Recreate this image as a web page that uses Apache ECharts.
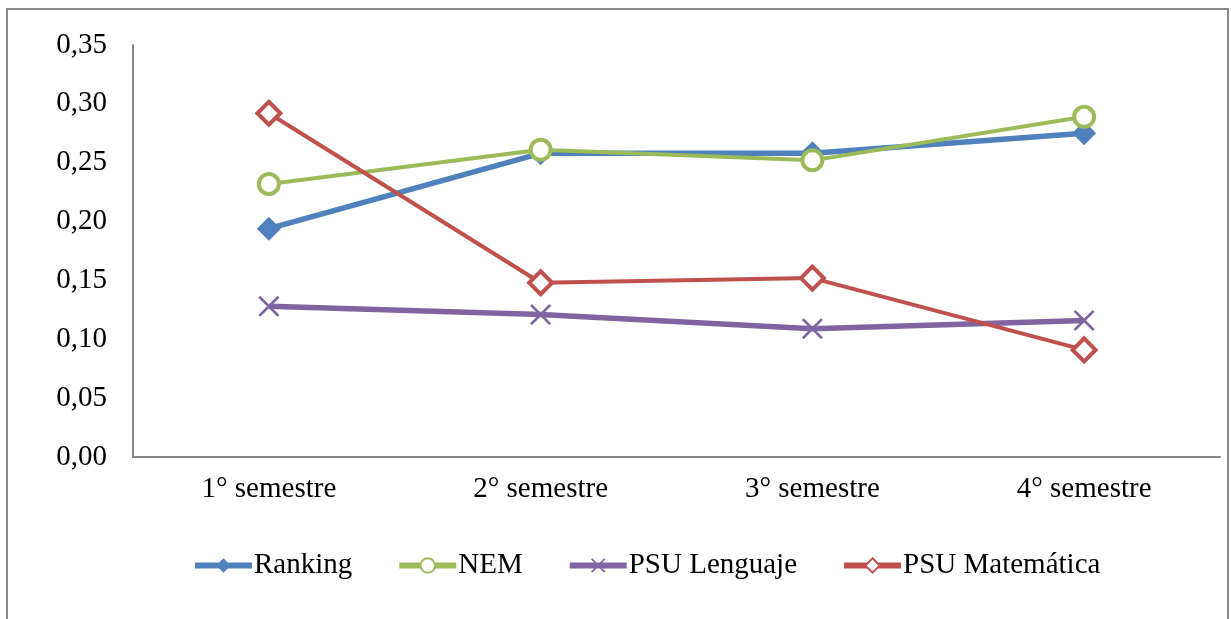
<!DOCTYPE html>
<html>
<head>
<meta charset="utf-8">
<script src="https://cdn.jsdelivr.net/npm/echarts@6/dist/echarts.min.js"></script>
<style>
html,body{margin:0;padding:0;background:#fff;}
#chart{width:1231px;height:619px;}
</style>
</head>
<body>
<div id="chart"></div>
<script>
const categories = ['1° semestre', '2° semestre', '3° semestre', '4° semestre'];
const ranking = [0.194, 0.258, 0.258, 0.275];
const nem = [0.232, 0.261, 0.252, 0.289];
const psuLenguaje = [0.128, 0.121, 0.109, 0.116];
const psuMatematica = [0.292, 0.148, 0.152, 0.091];
const seriesNames = ['Ranking', 'NEM', 'PSU Lenguaje', 'PSU Matemática'];

const FONT = '"Liberation Serif", "Times New Roman", serif';
const xPath = 'path://M0,9 L9,0 L50,41 L91,0 L100,9 L59,50 L100,91 L91,100 L50,59 L9,100 L0,91 L41,50 Z';

const chart = echarts.init(document.getElementById('chart'));
chart.setOption({
  animation: false,
  backgroundColor: '#fff',
  graphic: [{
    type: 'rect',
    shape: { x: 7, y: 9, width: 1221, height: 640 },
    style: { fill: 'none', stroke: '#8a8a8a', lineWidth: 2 },
    silent: true
  }],
  grid: { left: 133, right: 11, top: 45, bottom: 162, containLabel: false },
  legend: {
    left: 187, top: 546,
    itemWidth: 57, itemHeight: 18, itemGap: 44,
    lineStyle: { width: 6 },
    textStyle: { fontFamily: FONT, fontSize: 29, color: '#000', padding: [0, 0, 0, -3] },
    data: seriesNames
  },
  xAxis: {
    type: 'category',
    data: categories,
    boundaryGap: true,
    axisLine: { lineStyle: { color: '#868686', width: 2 } },
    axisTick: { show: false },
    axisLabel: { fontFamily: FONT, fontSize: 29, color: '#000', margin: 18 },
    splitLine: { show: false }
  },
  yAxis: {
    type: 'value',
    min: 0, max: 0.35, interval: 0.05,
    axisLine: { show: true, lineStyle: { color: '#868686', width: 2 } },
    axisTick: { show: false },
    splitLine: { show: false },
    axisLabel: {
      fontFamily: FONT, fontSize: 29, color: '#000', margin: 26,
      formatter: v => v.toFixed(2).replace('.', ',')
    }
  },
  series: [
    {
      name: seriesNames[0], type: 'line', data: ranking,
      symbol: 'diamond', symbolSize: 24,
      lineStyle: { color: '#4F81BD', width: 5.5 },
      itemStyle: { color: '#4F81BD' },
      z: 2
    },
    {
      name: seriesNames[1], type: 'line', data: nem,
      symbol: 'circle', symbolSize: 20,
      lineStyle: { color: '#9BBB59', width: 4 },
      itemStyle: { color: '#fff', borderColor: '#9BBB59', borderWidth: 4 },
      z: 3
    },
    {
      name: seriesNames[2], type: 'line', data: psuLenguaje,
      symbol: xPath, symbolSize: 21,
      lineStyle: { color: '#8064A2', width: 5.5 },
      itemStyle: { color: '#8064A2' },
      z: 2
    },
    {
      name: seriesNames[3], type: 'line', data: psuMatematica,
      symbol: 'diamond', symbolSize: 23,
      lineStyle: { color: '#C0504D', width: 4 },
      itemStyle: { color: '#fff', borderColor: '#C0504D', borderWidth: 4 },
      z: 4
    }
  ]
});
</script>
</body>
</html>
